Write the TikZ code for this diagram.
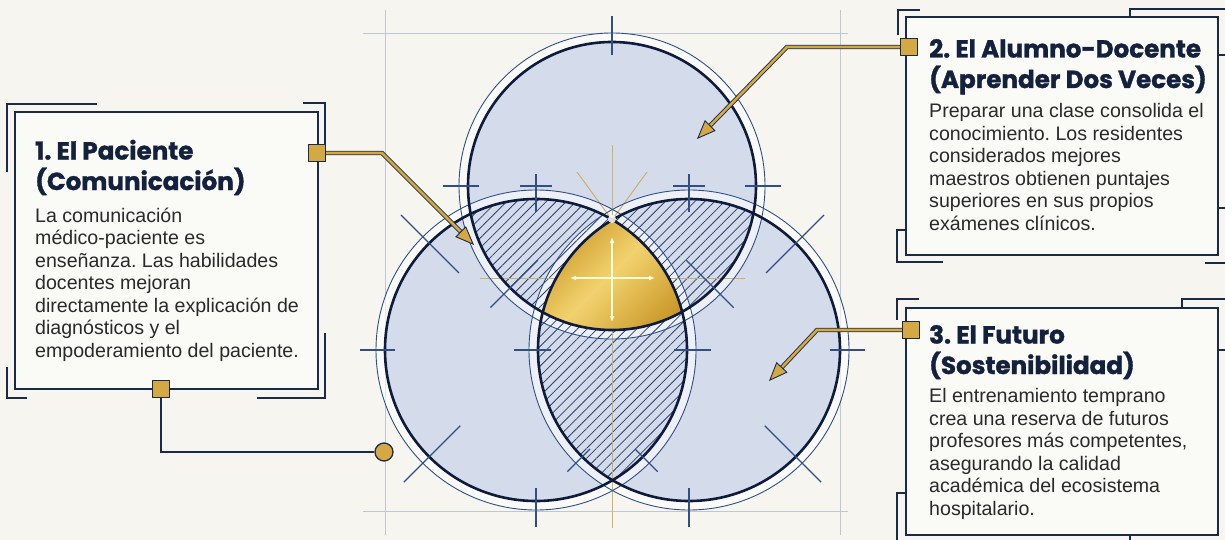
\documentclass[tikz,border=0pt]{standalone}
\usepackage{fontspec}
\setmainfont{Liberation Sans}
\newfontfamily\titlefont{Poppins}[BoldFont={Poppins Bold},BoldFeatures={FakeBold=1.3}]
\usetikzlibrary{patterns.meta,arrows.meta,calc}
\definecolor{bg}{HTML}{F6F5F0}
\definecolor{boxfill}{HTML}{FAFAF7}
\definecolor{navy}{HTML}{1B2A47}
\definecolor{deepnavy}{HTML}{0E1B3A}
\definecolor{ringblue}{HTML}{2F4F86}
\definecolor{discfill}{HTML}{D4DBEA}
\definecolor{hatchcol}{HTML}{2B3F6B}
\definecolor{gold}{HTML}{D4A843}
\definecolor{gdark}{HTML}{C28E1C}
\definecolor{glight}{HTML}{F2D26E}
\definecolor{gline}{HTML}{C9B26A}
\definecolor{framecol}{HTML}{BFC6D6}
\definecolor{bodytext}{HTML}{2A2A2A}
\definecolor{titletext}{HTML}{14213D}
\frenchspacing
\begin{document}
\begin{tikzpicture}[x=1pt,y=-1pt,
  boxstyle/.style={draw=navy,line width=1.6pt,fill=boxfill},
  bracket/.style={draw=navy,line width=1.8pt},
  tickline/.style={draw=ringblue,line width=1.1pt},
  ringline/.style={draw=ringblue,line width=0.9pt},
  thickline/.style={draw=deepnavy,line width=2.6pt},
  frameline/.style={draw=framecol,line width=0.9pt},
  goldline/.style={draw=gline,line width=1pt},
  conn/.style={draw=navy,line width=0.9pt,double=gold,double distance=2.6pt},
  headtip/.style={draw=navy,line width=0.9pt,-{Triangle[length=19pt,width=15pt,fill=gold]}},
  sq/.style={draw=navy,line width=1.2pt,fill=gold,minimum size=17pt,inner sep=0pt},
  ttl/.style={anchor=base west,align=left,inner sep=0pt,text=titletext,font=\titlefont\bfseries\fontsize{24.6}{30.5}\selectfont},
  bdy/.style={anchor=base west,align=left,inner sep=0pt,text=bodytext,font=\fontsize{19.6}{22.5}\selectfont},
  warrow/.style={draw=white!85!yellow,line width=1.4pt,{Latex[length=6pt,width=5pt]}-{Latex[length=6pt,width=5pt]}}
]
\fill[bg] (0,0) rectangle (1225,540);
\useasboundingbox (0,0) rectangle (1225,540);

% frame lines
\draw[frameline] (363,33) -- (848,33);
\draw[frameline] (363,511) -- (848,511);
\draw[frameline] (385,10) -- (385,535);
\draw[frameline] (840,10) -- (840,535);

% circles
\coordinate (CT) at (612,186);
\coordinate (CL) at (536,350);
\coordinate (CR) at (689,350);
\fill[discfill] (CT) circle[radius=144pt];
\fill[discfill] (CL) circle[radius=151pt];
\fill[discfill] (CR) circle[radius=151pt];
\draw[white,opacity=.6,line width=8pt] (CT) circle[radius=149pt];
\draw[white,opacity=.6,line width=8pt] (CL) circle[radius=156pt];
\draw[white,opacity=.6,line width=8pt] (CR) circle[radius=156pt];

% hatched pairwise overlaps
\begin{scope}
  \clip (CT) circle[radius=144pt];
  \fill[pattern={Lines[angle=45,distance=7pt,line width=0.8pt]},pattern color=hatchcol] (CL) circle[radius=151pt];
  \fill[pattern={Lines[angle=45,distance=7pt,line width=0.8pt]},pattern color=hatchcol] (CR) circle[radius=151pt];
\end{scope}
\begin{scope}
  \clip (CL) circle[radius=151pt];
  \fill[pattern={Lines[angle=45,distance=7pt,line width=0.8pt]},pattern color=hatchcol] (CR) circle[radius=151pt];
\end{scope}

% gold construction lines
\draw[goldline] (612,145) -- (612,528);
\draw[goldline] (480,278) -- (745,278);
\draw[goldline] (577,172) -- (612,220) -- (647,172);

% gold centre
\begin{scope}
  \clip (CT) circle[radius=144pt];
  \clip (CL) circle[radius=151pt];
  \clip (CR) circle[radius=151pt];
  \shade[left color=gdark,right color=gdark!90!glight,middle color=glight,shading angle=45] (530,200) rectangle (700,340);
\end{scope}

% rings and thick outlines
\draw[ringline] (CT) circle[radius=153pt];
\draw[ringline] (CL) circle[radius=160pt];
\draw[ringline] (CR) circle[radius=160pt];
\draw[thickline] (CT) circle[radius=144pt];
\draw[thickline] (CL) circle[radius=151pt];
\draw[thickline] (CR) circle[radius=151pt];

% ticks
\foreach \c/\a/\r/\l in {CT/270/131/39, CT/180/133/36, CT/0/133/36, CT/135/105/67, CT/45/105/67,
  CL/270/138/38, CL/180/141/35, CL/0/138/37, CL/90/138/39, CL/225/109/82, CL/135/107/80, CL/45/140/32,
  CR/270/138/38, CR/180/138/37, CR/0/141/35, CR/90/138/39, CR/315/109/82, CR/45/107/80, CR/135/140/32}
  \draw[tickline] (\c) ++(\a:\r) -- ++(\a:\l);
\draw[tickline] (520,186) -- (552,186);
\draw[tickline] (673,186) -- (705,186);

% centre arrows and glow
\draw[warrow] (612,237) -- (612,322);
\draw[warrow] (570,278) -- (655,278);
\fill[white,opacity=.85] (612,219) circle[radius=4pt];

% boxes
\draw[boxstyle] (15,112) rectangle (318,389);
\draw[boxstyle] (906,17) rectangle (1218,255);
\draw[boxstyle] (906,308) rectangle (1218,535);

% brackets box 1
\draw[bracket] (7,172) -- (7,104) -- (97,104);
\draw[bracket] (303,103) -- (325,103) -- (325,152);
\draw[bracket] (7,367) -- (7,398) -- (27,398);
\draw[bracket] (257,398) -- (325,398) -- (325,333);
% brackets box 2
\draw[bracket] (920,10) -- (898,10) -- (898,35);
\draw[bracket] (1130,17) -- (1130,9) -- (1240,9);
\draw[bracket] (1218,55) -- (1240,55);
\draw[bracket] (1218,208) -- (1240,208);
\draw[bracket] (906,230) -- (897,230) -- (897,262) -- (943,262);
\draw[bracket] (1205,263) -- (1240,263);
% brackets box 3
\draw[bracket] (919,299) -- (897,299) -- (897,320);
\draw[bracket] (1182,308) -- (1182,299) -- (1240,299);
\draw[bracket] (1218,350) -- (1240,350);
\draw[bracket] (906,493) -- (897,493) -- (897,545);
\draw[bracket] (1130,535) -- (1130,545);

% texts (anchor = baseline of the last line)
\node[ttl] (t1) at (35,190) {1. El Paciente\\(Comunicación)};
\node[bdy] (b1) at (35,357) {La comunicación\\médico-paciente es\\enseñanza. Las habilidades\\docentes mejoran\\directamente la explicación de\\diagnósticos y el\\empoderamiento del paciente.};
\node[ttl] (t2) at (929,88) {2. El Alumno-Docente\\(Aprender Dos Veces)};
\node[bdy] (b2) at (929,230) {Preparar una clase consolida el\\conocimiento. Los residentes\\considerados mejores\\maestros obtienen puntajes\\superiores en sus propios\\exámenes clínicos.};
\node[ttl] (t3) at (929,374) {3. El Futuro\\(Sostenibilidad)};
\node[bdy] (b3) at (929,515) {El entrenamiento temprano\\crea una reserva de futuros\\profesores más competentes,\\asegurando la calidad\\académica del ecosistema\\hospitalario.};

% connectors
\node[sq] (s1) at (317,153) {};
\node[sq] (s1b) at (161,389) {};
\node[sq] (s2) at (909,47) {};
\node[sq] (s3) at (911,330) {};
\node[circle,draw=navy,line width=1.3pt,fill=gold,minimum size=18pt,inner sep=0pt] (dot) at (384,452) {};
\coordinate (j1) at (382,153);
\coordinate (tip1) at (474,245);
\coordinate (j2) at (787,47);
\coordinate (tip2) at (697,139);
\coordinate (j3) at (817,330);
\coordinate (tip3) at (769,381);
\draw[conn,shorten >=15pt] (s1.east) -- (j1) -- (tip1);
\draw[headtip] ($(tip1)!19pt!(j1)$) -- (tip1);
\draw[conn,shorten >=15pt] (s2.west) -- (j2) -- (tip2);
\draw[headtip] ($(tip2)!19pt!(j2)$) -- (tip2);
\draw[conn,shorten >=15pt] (s3.west) -- (j3) -- (tip3);
\draw[headtip] ($(tip3)!19pt!(j3)$) -- (tip3);
\draw[navy,line width=1.6pt] (s1b.south) |- (dot.west);
\end{tikzpicture}
\end{document}
